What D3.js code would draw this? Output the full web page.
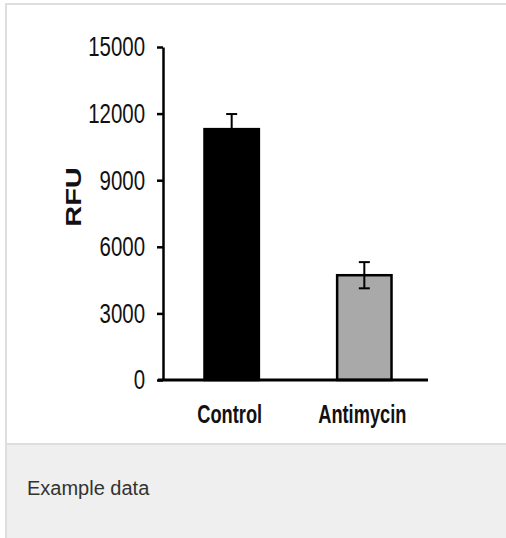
<!DOCTYPE html>
<html>
<head>
<meta charset="utf-8">
<script src="https://cdn.jsdelivr.net/npm/d3@7"></script>
<style>
  body { margin: 0; background: #fff; }
  svg { display: block; }
</style>
</head>
<body>
<svg id="chart" width="506" height="538"></svg>
<script>
// data
var groups = ['Control', 'Antimycin'];
var rfu = [11300, 4720];
var rfuErr = [680, 590];
var barColors = ['#000000', '#a9a9a9'];
var yTicks = [0, 3000, 6000, 9000, 12000, 15000];

var svg = d3.select('#chart');

// card frame + caption strip
svg.append('rect')
  .attr('x', 6).attr('y', 4).attr('width', 520).attr('height', 560)
  .attr('fill', '#fff').attr('stroke', '#dedede').attr('stroke-width', 2);
svg.append('rect')
  .attr('x', 6).attr('y', 444).attr('width', 520).attr('height', 120)
  .attr('fill', '#eeefee').attr('stroke', '#dedede').attr('stroke-width', 2);
svg.append('text')
  .attr('x', 27).attr('y', 495)
  .attr('font-family', 'Liberation Sans, Arial, sans-serif')
  .attr('font-size', 20)
  .attr('fill', '#333')
  .text('Example data');

var y = d3.scaleLinear()
  .domain([0, 15000])
  .range([380, 47]);

var x = d3.scaleBand()
  .domain(groups)
  .range([170, 426])
  .paddingInner(0.59)
  .paddingOuter(0.26);

var axisX0 = 163;
var squish = 0.73; // the picture is narrowed horizontally

// y axis
var yAxis = svg.append('g')
  .attr('transform', 'translate(' + axisX0 + ',0)')
  .call(d3.axisLeft(y).tickValues(yTicks).tickSize(6).tickSizeOuter(0).tickFormat(d3.format('d')));

yAxis.select('.domain').attr('stroke', '#000').attr('stroke-width', 2.5);
yAxis.selectAll('.tick line').attr('stroke', '#000').attr('stroke-width', 2.5);
yAxis.selectAll('.tick text')
  .attr('x', 0)
  .attr('transform', 'translate(-18,0) scale(' + squish + ',1)')
  .attr('font-family', 'Liberation Sans, Arial, sans-serif')
  .attr('font-size', 28)
  .attr('fill', '#111');

// bars
var bars = svg.selectAll('.bar')
  .data(groups)
  .enter()
  .append('rect')
  .attr('class', 'bar')
  .attr('x', d => x(d))
  .attr('width', x.bandwidth())
  .attr('y', (d, i) => y(rfu[i]))
  .attr('height', (d, i) => y(0) - y(rfu[i]))
  .attr('fill', (d, i) => barColors[i])
  .attr('stroke', '#000')
  .attr('stroke-width', 2.5);

// error bars
var capW = 11;
var err = svg.selectAll('.err')
  .data(groups)
  .enter()
  .append('g')
  .attr('class', 'err')
  .attr('transform', d => 'translate(' + (x(d) + x.bandwidth() / 2) + ',0)')
  .attr('stroke', '#000')
  .attr('stroke-width', 2);

err.append('line')
  .attr('x1', 0).attr('x2', 0)
  .attr('y1', (d, i) => y(rfu[i] - rfuErr[i]))
  .attr('y2', (d, i) => y(rfu[i] + rfuErr[i]));
err.append('line')
  .attr('x1', -capW / 2).attr('x2', capW / 2)
  .attr('y1', (d, i) => y(rfu[i] + rfuErr[i]))
  .attr('y2', (d, i) => y(rfu[i] + rfuErr[i]));
err.append('line')
  .attr('x1', -capW / 2).attr('x2', capW / 2)
  .attr('y1', (d, i) => y(rfu[i] - rfuErr[i]))
  .attr('y2', (d, i) => y(rfu[i] - rfuErr[i]));

// x axis baseline
svg.append('line')
  .attr('x1', 158).attr('x2', 428)
  .attr('y1', y(0)).attr('y2', y(0))
  .attr('stroke', '#000').attr('stroke-width', 3);

// category labels
svg.selectAll('.xlab')
  .data(groups)
  .enter()
  .append('text')
  .attr('class', 'xlab')
  .attr('transform', d => 'translate(' + (x(d) + x.bandwidth() / 2 - 2) + ',423) scale(' + squish + ',1)')
  .attr('text-anchor', 'middle')
  .attr('font-family', 'Liberation Sans, Arial, sans-serif')
  .attr('font-weight', 'bold')
  .attr('font-size', 25)
  .attr('fill', '#111')
  .text(d => d);

// y axis title
svg.append('text')
  .attr('transform', 'translate(81,197) scale(' + squish + ',1) rotate(-90)')
  .attr('text-anchor', 'middle')
  .attr('font-family', 'Liberation Sans, Arial, sans-serif')
  .attr('font-weight', 'bold')
  .attr('font-size', 29)
  .attr('fill', '#111')
  .text('RFU');
</script>
</body>
</html>
